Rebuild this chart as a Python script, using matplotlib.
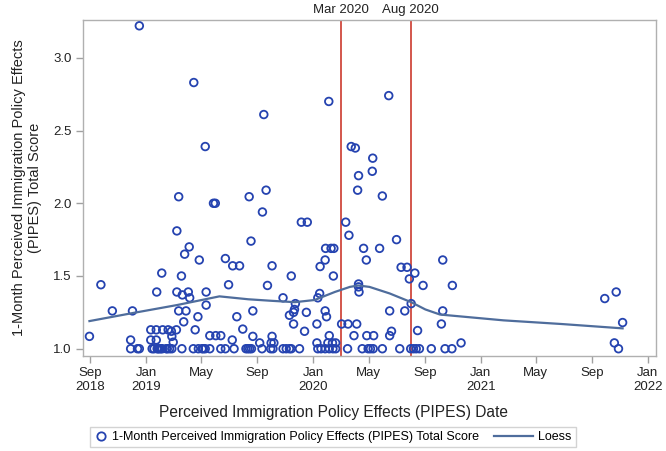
import matplotlib
matplotlib.use("Agg")
import matplotlib.pyplot as plt
import matplotlib.transforms as mtransforms
from matplotlib.lines import Line2D
from matplotlib.legend_handler import HandlerBase
import pandas as pd

plt.rcParams['font.family'] = ['Liberation Sans', 'DejaVu Sans']

# ---- data ----
dates_2018 = ["2018-08-30", "2018-09-24", "2018-10-19", "2018-12-02", "2018-11-28",
              "2018-11-28", "2018-12-13", "2018-12-17", "2018-12-17"]
scores_2018 = [1.085, 1.44, 1.26, 1.26, 1.06, 1.00, 1.00, 1.00, 3.22]

dates_2019a = ["2019-01-11", "2019-01-23", "2019-02-06", "2019-02-18", "2019-02-25", "2019-03-08",
               "2019-01-11", "2019-01-23", "2019-02-26", "2019-03-01",
               "2019-01-14", "2019-01-18", "2019-01-25", "2019-01-27", "2019-01-30", "2019-02-02",
               "2019-02-05", "2019-02-14", "2019-02-16", "2019-02-21", "2019-02-26", "2019-03-20",
               "2019-04-14", "2019-04-25", "2019-05-03",
               "2019-01-24", "2019-02-04", "2019-03-09", "2019-03-13", "2019-03-26", "2019-04-05",
               "2019-03-19", "2019-03-09", "2019-03-21", "2019-04-03", "2019-04-06", "2019-03-13",
               "2019-03-29", "2019-03-24", "2019-04-15", "2019-04-24", "2019-04-18", "2019-04-27"]
scores_2019a = [1.13, 1.13, 1.13, 1.13, 1.12, 1.13,
                1.06, 1.06, 1.085, 1.045,
                1.0, 1.0, 1.0, 1.0, 1.0, 1.0,
                1.0, 1.0, 1.0, 1.0, 1.0, 1.0,
                1.0, 1.0, 1.0,
                1.39, 1.52, 1.81, 2.045, 1.65, 1.70,
                1.50, 1.39, 1.37, 1.39, 1.35, 1.26,
                1.26, 1.185, 2.83, 1.22, 1.13, 1.61]

dates_2019b = ["2019-05-10", "2019-05-12", "2019-05-12", "2019-05-20", "2019-06-02", "2019-06-13",
               "2019-05-28", "2019-06-01", "2019-06-23", "2019-06-30", "2019-07-09", "2019-07-24",
               "2019-07-08", "2019-07-18", "2019-07-31", "2019-08-14", "2019-08-18", "2019-08-22",
               "2019-08-22",
               "2019-05-06", "2019-05-10", "2019-05-20", "2019-06-13", "2019-06-23", "2019-07-12",
               "2019-08-07", "2019-08-11", "2019-08-15", "2019-08-19"]
scores_2019b = [2.39, 1.39, 1.30, 1.09, 1.09, 1.09,
                2.0, 2.0, 1.62, 1.44, 1.57, 1.57,
                1.06, 1.22, 1.135, 2.045, 1.74, 1.26,
                1.085,
                1.0, 1.0, 1.0, 1.0, 1.0, 1.0,
                1.0, 1.0, 1.0, 1.0]

dates_2019c = ["2019-09-12", "2019-09-15", "2019-09-20", "2019-09-06", "2019-09-23", "2019-10-03",
               "2019-10-03", "2019-10-01", "2019-10-07", "2019-10-27", "2019-11-14", "2019-11-10",
               "2019-11-19", "2019-11-21", "2019-11-23", "2019-11-19", "2019-12-06", "2019-12-19",
               "2019-12-13", "2019-12-17",
               "2019-09-11", "2019-09-30", "2019-10-05", "2019-10-27", "2019-11-03", "2019-11-10",
               "2019-11-14", "2019-12-02"]
scores_2019c = [1.94, 2.61, 2.09, 1.04, 1.435, 1.57,
                1.085, 1.04, 1.04, 1.35, 1.50, 1.23,
                1.25, 1.27, 1.31, 1.17, 1.87, 1.87,
                1.12, 1.25,
                1.0, 1.0, 1.0, 1.0, 1.0, 1.0,
                1.0, 1.0]

dates_2020a = ["2020-01-09", "2020-01-09", "2020-01-11", "2020-01-15", "2020-01-16", "2020-01-27",
               "2020-01-27", "2020-01-30", "2020-01-28", "2020-02-09", "2020-02-15", "2020-02-14",
               "2020-02-04", "2020-02-05", "2020-02-02", "2020-02-12", "2020-02-19",
               "2020-01-11", "2020-01-18", "2020-01-27", "2020-02-05", "2020-02-13", "2020-02-19",
               "2020-03-03", "2020-03-17", "2020-04-05", "2020-03-12", "2020-03-19", "2020-03-24",
               "2020-04-02", "2020-04-07", "2020-04-09", "2020-04-09", "2020-04-09", "2020-04-10",
               "2020-04-20", "2020-04-26", "2020-03-30", "2020-04-27",
               "2020-03-16", "2020-04-17", "2020-04-30"]
scores_2020a = [1.17, 1.04, 1.35, 1.38, 1.565, 1.61,
                1.26, 1.22, 1.69, 1.69, 1.69, 1.50,
                2.70, 1.09, 1.04, 1.04, 1.04,
                1.0, 1.0, 1.0, 1.0, 1.0, 1.0,
                1.17, 1.17, 1.17, 1.87, 1.78, 2.39,
                2.38, 2.09, 2.19, 1.445, 1.425, 1.39,
                1.69, 1.61, 1.09, 1.09,
                1.0, 1.0, 1.0]

dates_2020b = ["2020-05-05", "2020-05-11", "2020-05-10", "2020-05-09", "2020-05-12", "2020-05-25",
               "2020-05-31", "2020-05-31", "2020-06-14", "2020-06-16", "2020-06-16", "2020-06-20",
               "2020-07-01", "2020-07-08", "2020-07-11", "2020-07-19", "2020-07-24", "2020-07-29",
               "2020-08-01", "2020-08-02", "2020-08-07", "2020-08-10", "2020-08-13", "2020-08-16",
               "2020-08-20", "2020-08-28",
               "2020-09-15", "2020-10-07", "2020-10-10", "2020-10-10", "2020-10-15", "2020-10-30",
               "2020-10-31", "2020-11-19",
               "2021-09-29", "2021-10-24", "2021-11-07", "2021-10-20", "2021-10-29"]
scores_2020b = [1.0, 1.0, 2.31, 2.22, 1.09, 1.69,
                2.05, 1.0, 2.74, 1.26, 1.09, 1.12,
                1.75, 1.0, 1.56, 1.26, 1.56, 1.48,
                1.0, 1.31, 1.0, 1.52, 1.0, 1.125,
                1.0, 1.435,
                1.0, 1.17, 1.61, 1.26, 1.0, 1.0,
                1.435, 1.04,
                1.345, 1.39, 1.18, 1.04, 1.0]

loess_dates = ["2018-08-30", "2018-12-02", "2019-03-09", "2019-06-10", "2019-08-12", "2019-09-29",
               "2019-11-22", "2020-01-04", "2020-02-17", "2020-03-21", "2020-04-08", "2020-05-03",
               "2020-06-16", "2020-08-02", "2020-09-02", "2020-10-04", "2021-02-20", "2021-06-26",
               "2021-11-07"]
loess_scores = [1.19, 1.245, 1.30, 1.36, 1.34, 1.33,
                1.32, 1.335, 1.39, 1.425, 1.435, 1.425,
                1.38, 1.32, 1.27, 1.235, 1.195, 1.17,
                1.14]

tick_dates = ["2018-09-01", "2019-01-01", "2019-05-01", "2019-09-01", "2020-01-01", "2020-05-01",
              "2020-09-01", "2021-01-01", "2021-05-01", "2021-09-01", "2022-01-01"]
tick_labels = ["Sep\n2018", "Jan\n2019", "May", "Sep", "Jan\n2020", "May",
               "Sep", "Jan\n2021", "May", "Sep", "Jan\n2022"]
y_ticks = [1.0, 1.5, 2.0, 2.5, 3.0]

event_dates = ["2020-03-01", "2020-08-01"]
event_labels = ["Mar 2020", "Aug 2020"]

# ---- build ----
all_dates = pd.to_datetime(dates_2018 + dates_2019a + dates_2019b + dates_2019c + dates_2020a + dates_2020b)
all_scores = scores_2018 + scores_2019a + scores_2019b + scores_2019c + scores_2020a + scores_2020b

fig = plt.figure(figsize=(6.66, 4.51), dpi=100)
ax = fig.add_axes([0.124, 0.21, 0.861, 0.746])

marker_color = "#2543b0"
loess_color = "#4f6d9c"
text_color = "#222222"

ax.scatter(all_dates, all_scores, s=30, facecolors="none", edgecolors=marker_color,
           linewidths=1.3, zorder=3)
ax.plot(pd.to_datetime(loess_dates), loess_scores, color=loess_color, lw=1.6, zorder=4)

trans = mtransforms.blended_transform_factory(ax.transData, ax.transAxes)
for d, lab in zip(event_dates, event_labels):
    dt = pd.to_datetime(d)
    ax.axvline(dt, color="#cc3a2e", lw=1.2, zorder=2)
    ax.text(dt, 1.01, lab, transform=trans, ha="center", va="bottom", fontsize=9.5, color=text_color)

ax.set_xlim(pd.to_datetime("2018-08-15"), pd.to_datetime("2022-01-19"))
ax.set_ylim(0.948, 3.261)
ax.set_xticks(pd.to_datetime(tick_dates))
ax.set_xticklabels(tick_labels, fontsize=9.5, color=text_color)
ax.set_yticks(y_ticks)
ax.set_yticklabels([f"{v:.1f}" for v in y_ticks], fontsize=9.5, color=text_color)

for s in ax.spines.values():
    s.set_color("#b0b0b0")
    s.set_linewidth(1.0)
ax.tick_params(axis="both", direction="out", length=5, width=1, color="#a0a0a0", pad=3)

ax.set_xlabel("Perceived Immigration Policy Effects (PIPES) Date", fontsize=11.2, color=text_color)
ax.xaxis.set_label_coords(0.437, -0.145)
ax.set_ylabel("1-Month Perceived Immigration Policy Effects\n(PIPES) Total Score", fontsize=10.5,
              color=text_color, labelpad=8)


class MarkerHandler(HandlerBase):
    def create_artists(self, legend, orig_handle, xdescent, ydescent, width, height, fontsize, trans):
        m = Line2D([width / 2 - xdescent], [height / 2 - ydescent], marker="o",
                   linestyle="none", markerfacecolor="none", markeredgecolor=marker_color,
                   markeredgewidth=1.3, markersize=6, transform=trans)
        return [m]


class LongLineHandler(HandlerBase):
    def create_artists(self, legend, orig_handle, xdescent, ydescent, width, height, fontsize, trans):
        ln = Line2D([-xdescent - 2.1 * fontsize, width - xdescent], [height / 2 - ydescent] * 2,
                    color=loess_color, lw=1.6, transform=trans)
        return [ln]


marker_handle = Line2D([], [], marker="o", linestyle="none")
line_handle = Line2D([], [], color=loess_color, lw=1.6)
fig.legend([marker_handle, line_handle],
           ["1-Month Perceived Immigration Policy Effects (PIPES) Total Score", "Loess"],
           handler_map={marker_handle: MarkerHandler(), line_handle: LongLineHandler()},
           loc="center", bbox_to_anchor=(0.5, 0.031), ncol=2, fontsize=9.0, frameon=True,
           fancybox=False, edgecolor="#c8c8c8", handlelength=1.0, columnspacing=3.3,
           handletextpad=0.4, borderpad=0.35)

fig.savefig("out.png", dpi=100)
